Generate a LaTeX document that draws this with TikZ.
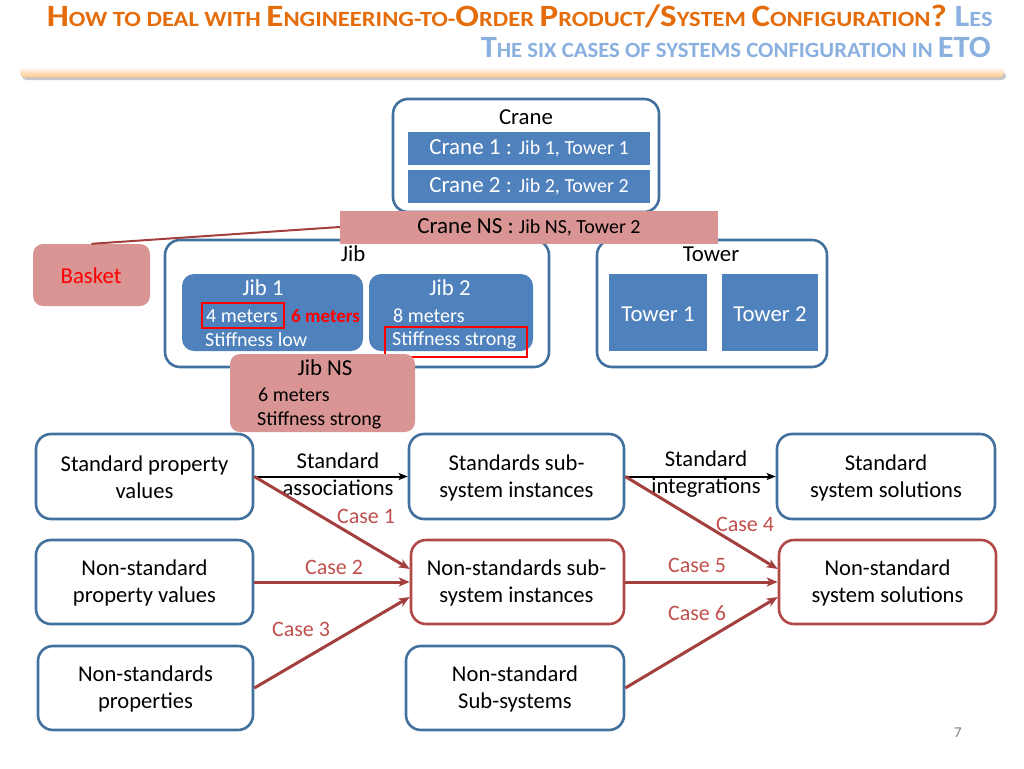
\documentclass[tikz,border=0pt]{standalone}
\usepackage{graphicx}
\usepackage{fontspec}
\setmainfont{Carlito}
\usetikzlibrary{arrows.meta}
\definecolor{ttlorange}{HTML}{E46C0A}
\definecolor{ttlblue}{HTML}{8AB0E0}
\definecolor{bord}{HTML}{41719C}
\definecolor{fillblue}{HTML}{4F81BD}
\definecolor{pinkf}{HTML}{D99594}
\definecolor{redb}{HTML}{B04846}
\definecolor{arrred}{HTML}{A33F3D}
\definecolor{caselab}{HTML}{C0504D}
\newcommand\myfs[2]{\fontsize{#1}{#2}\selectfont}
\newcommand\tb{\myfs{31}{34}}
\newcommand\ts{\myfs{21.7}{24}}
\begin{document}
\begin{tikzpicture}[x=1pt,y=-1pt,
  outer/.style={draw=bord, line width=2.6pt, rounded corners=15pt, fill=white, inner sep=0pt},
  outerred/.style={draw=redb, line width=2.6pt, rounded corners=15pt, fill=white, inner sep=0pt},
  solid/.style={fill=fillblue, inner sep=0pt, text=white},
  solidr/.style={fill=fillblue, inner sep=0pt, rounded corners=12pt},
  pinkbox/.style={fill=pinkf, inner sep=0pt},
  txt/.style={inner sep=0pt, font=\myfs{22.8}{26}},
  smalltxt/.style={inner sep=0pt, font=\myfs{20}{23}},
  btxt/.style={inner sep=0pt, align=center, font=\myfs{22.6}{27}},
  caselbl/.style={inner sep=0pt, text=caselab, font=\myfs{22}{25}},
  redarr/.style={draw=arrred, line width=3pt, -{Stealth[length=11pt,width=9pt,inset=3pt]}},
  blkarr/.style={draw=black, line width=2pt, -{Stealth[length=9pt,width=7pt,inset=2pt]}},
  hilite/.style={draw=red, line width=2.2pt, inner sep=0pt}
]
\useasboundingbox (0,0) rectangle (1024,768);
% title
\node[inner sep=0pt, anchor=base east, text=ttlorange, font=\bfseries] (t1) at (993,27)
  {\resizebox{946pt}{\height}{{\tb H}{\ts OW TO DEAL WITH }{\tb E}{\ts NGINEERING-TO-}{\tb O}{\ts RDER }{\tb P}{\ts RODUCT}{\tb /S}{\ts YSTEM }{\tb C}{\ts ONFIGURATION}{\tb ? }\textcolor{ttlblue}{{\tb L}{\ts ES}}}};
\node[inner sep=0pt, anchor=base east, text=ttlblue, font=\bfseries] (t2) at (991,58)
  {\resizebox{510pt}{\height}{{\tb T}{\ts HE SIX CASES OF SYSTEMS CONFIGURATION IN }{\tb ETO}}};
\fill[black!22, rounded corners=4pt] (22,72) rectangle (1006,80);
\shade[top color=white, bottom color=orange!45, rounded corners=4pt] (20,67) rectangle (1004,77);

% crane
\node[outer, minimum width=266pt, minimum height=113pt] (crane) at (526,155.5) {};
\node[txt] (cranel) at (526,117) {Crane};
\node[solid, minimum width=242pt, minimum height=33pt] (c1) at (529,148.5) {{\myfs{23}{26}Crane 1 : }{\myfs{20}{23}Jib 1, Tower 1}};
\node[solid, minimum width=242pt, minimum height=33pt] (c2) at (529,186.5) {{\myfs{23}{26}Crane 2 : }{\myfs{20}{23}Jib 2, Tower 2}};

% jib & tower containers
\node[outer, minimum width=384pt, minimum height=127pt] (jib) at (357,303.5) {};
\node[txt] (jibl) at (353,254) {Jib};
\node[outer, minimum width=230pt, minimum height=127pt] (tower) at (712,303.5) {};
\node[txt] (towerl) at (711,254) {Tower};
\node[solid, minimum width=98pt, minimum height=77pt] (tw1) at (658,312.5) {};
\node[solid, minimum width=96pt, minimum height=77pt] (tw2) at (770,312.5) {};
\node[txt, text=white] (tw1t) at (658,314) {Tower 1};
\node[txt, text=white] (tw2t) at (770,314) {Tower 2};

\node[solidr, minimum width=181pt, minimum height=77pt] (j1) at (272.5,312.5) {};
\node[solidr, minimum width=164pt, minimum height=77pt] (j2) at (451,312.5) {};
\node[txt, text=white] (j1t) at (263,288) {Jib 1};
\node[smalltxt, text=white, anchor=west] (j1m) at (206,316) {4 meters};
\node[smalltxt, text=white, anchor=west] (j1s) at (205,340) {Stiffness low};
\node[smalltxt, text=red, font=\myfs{19}{22}\bfseries, anchor=west] (j1six) at (291,316) {6 meters};
\node[hilite, minimum width=82pt, minimum height=25pt] (h1) at (243,315.5) {};
\node[txt, text=white] (j2t) at (450,288) {Jib 2};
\node[smalltxt, text=white, anchor=west] (j2m) at (393,316) {8 meters};
\node[smalltxt, text=white, anchor=west] (j2s) at (392,340) {Stiffness strong};
\node[hilite, minimum width=142pt, minimum height=30pt] (h2) at (456,342) {};

% crane NS
\node[pinkbox, minimum width=378pt, minimum height=33pt] (cns) at (529,227) {{\myfs{23}{26}Crane NS : }{\myfs{20}{23}Jib NS, Tower 2}};
\node[pinkbox, rounded corners=10pt, minimum width=117pt, minimum height=62pt] (basket) at (91.5,275) {};
\node[txt, text=red] (basketl) at (91,276) {Basket};
\draw[arrred, line width=2pt] (cns.west) -- (basket.north);

% jib NS
\node[pinkbox, rounded corners=10pt, minimum width=185pt, minimum height=78pt] (jns) at (322.5,393) {};
\node[txt] (jnst) at (325,368) {Jib NS};
\node[smalltxt, anchor=west] (jnsm) at (258,395) {6 meters};
\node[smalltxt, anchor=west] (jnss) at (257,420) {Stiffness strong};

% bottom boxes
\node[outer, minimum width=217pt, minimum height=85pt] (a1) at (144.5,476.5) {};
\node[outer, minimum width=217pt, minimum height=84pt] (a2) at (144.5,582) {};
\node[outer, minimum width=215pt, minimum height=84pt] (a3) at (145.5,688) {};
\node[outer, minimum width=215pt, minimum height=85pt] (b1) at (516.5,476.5) {};
\node[outerred, minimum width=213pt, minimum height=84pt] (b2) at (517.5,582) {};
\node[outer, minimum width=218pt, minimum height=84pt] (b3) at (515,688) {};
\node[outer, minimum width=218pt, minimum height=85pt] (c1b) at (886,476.5) {};
\node[outerred, minimum width=217pt, minimum height=84pt] (c2b) at (887.5,582) {};

\node[btxt] (a1t) at (144.5,477.5) {Standard property\\values};
\node[btxt] (a2t) at (144.5,582.5) {Non-standard\\property values};
\node[btxt] (a3t) at (145.5,688.5) {Non-standards\\properties};
\node[btxt] (b1t) at (516.5,477.5) {Standards sub-\\system instances};
\node[btxt] (b2t) at (516.5,582.5) {Non-standards sub-\\system instances};
\node[btxt] (b3t) at (515,688.5) {Non-standard\\Sub-systems};
\node[btxt] (c1t) at (886,477.5) {Standard\\system solutions};
\node[btxt] (c2t) at (887.5,582.5) {Non-standard\\system solutions};

% arrows
\draw[blkarr] (a1.east) -- (b1.west);
\node[btxt] (sa) at (338,474) {Standard\\associations};
\draw[redarr] (a1.east) -- ([yshift=13pt]b2.west);
\draw[redarr] (a2.east) -- (b2.west);
\draw[redarr] (a3.east) -- ([yshift=-15pt]b2.west);
\draw[blkarr] (b1.east) -- (c1b.west);
\node[btxt] (si) at (706,474) {Standard\\integrations};
\draw[redarr] (b1.east) -- ([yshift=13pt]c2b.west);
\draw[redarr] (b2.east) -- (c2b.west);
\draw[redarr] (b3.east) -- ([yshift=-15pt]c2b.west);

\node[caselbl] (k1) at (366,516) {Case 1};
\node[caselbl] (k2) at (334,567) {Case 2};
\node[caselbl] (k3) at (301,629) {Case 3};
\node[caselbl] (k4) at (745,524) {Case 4};
\node[caselbl] (k5) at (697,565) {Case 5};
\node[caselbl] (k6) at (697,613) {Case 6};

\node[inner sep=0pt, text=black!50, font=\myfs{15}{18}] (pg) at (958,733) {7};
\end{tikzpicture}
\end{document}
